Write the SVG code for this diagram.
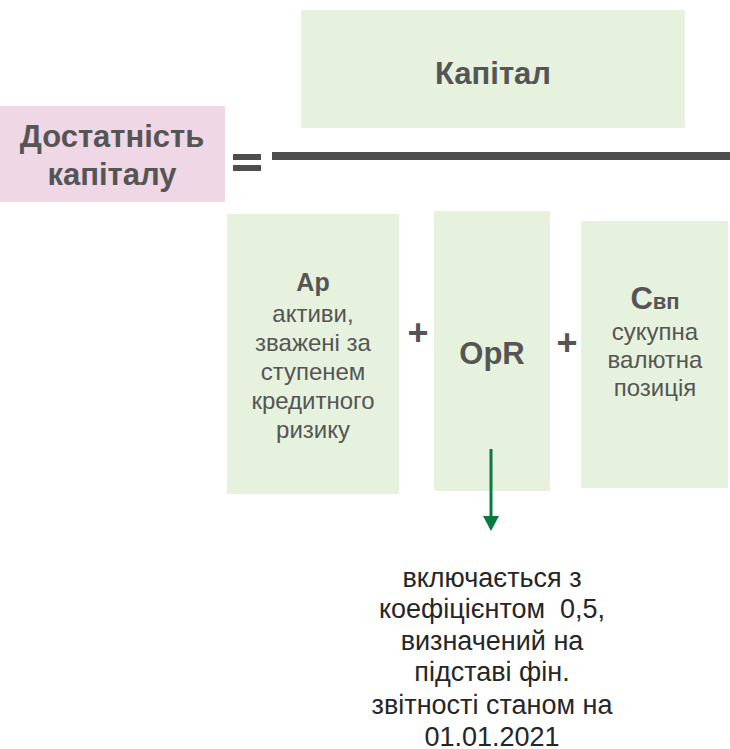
<svg xmlns="http://www.w3.org/2000/svg" width="730" height="749" viewBox="0 0 730 749">
<style>
.g{fill:#e6f2de}
.t{font-family:"Liberation Sans",Arial,sans-serif;fill:#555555;text-anchor:middle}
.b{font-weight:bold}
.d{fill:#4d4d4d}
.n{fill:#262626;font-size:27px}
.s{font-size:24px}
</style>
<defs>
<marker id="ah" markerWidth="15" markerHeight="16" refX="0" refY="8" orient="auto" markerUnits="userSpaceOnUse" viewBox="0 0 15 16">
<path d="M0,0 L15,8 L0,16 Z" fill="#0a7a43"/>
</marker>
</defs>
<rect width="730" height="749" fill="#ffffff"/>
<g id="ratio">
<rect x="0" y="106" width="225" height="96" fill="#f0d7e5"/>
<text class="t b" x="112" y="147" font-size="31">Достатність</text>
<text class="t b" x="112" y="185" font-size="31">капіталу</text>
</g>
<g id="equals">
<rect class="d" x="233" y="154" width="28" height="6"/>
<rect class="d" x="233" y="165" width="28" height="6"/>
</g>
<g id="fraction-line">
<rect class="d" x="272" y="152" width="458" height="8"/>
</g>
<g id="capital">
<rect class="g" x="301" y="10" width="384" height="118"/>
<text class="t b" x="493" y="84" font-size="31">Капітал</text>
</g>
<g id="ap">
<rect class="g" x="227" y="214" width="172" height="280"/>
<text class="t b" x="313" y="291" font-size="25">Ap</text>
<text class="t s" x="313" y="322">активи,</text>
<text class="t s" x="313" y="351">зважені за</text>
<text class="t s" x="313" y="380">ступенем</text>
<text class="t s" x="313" y="409">кредитного</text>
<text class="t s" x="313" y="438">ризику</text>
</g>
<g id="plus1">
<text class="t b" x="418" y="345" font-size="36">+</text>
</g>
<g id="opr">
<rect class="g" x="434" y="211" width="116" height="280"/>
<text class="t b" x="492" y="364" font-size="31">OpR</text>
</g>
<g id="plus2">
<text class="t b" x="567" y="355" font-size="36">+</text>
</g>
<g id="cvp">
<rect class="g" x="581" y="221" width="147" height="267"/>
<text class="t b" x="655" y="309" font-size="31">С<tspan font-size="22">вп</tspan></text>
<text class="t s" x="655" y="340">сукупна</text>
<text class="t s" x="655" y="368">валютна</text>
<text class="t s" x="655" y="396">позиція</text>
</g>
<g id="connectors">
<line x1="491" y1="449" x2="491" y2="516" stroke="#0a7a43" stroke-width="3" marker-end="url(#ah)"/>
</g>
<g id="note">
<text class="t n" x="492" y="587">включається з</text>
<text class="t n" x="492" y="618" xml:space="preserve">коефіцієнтом  0,5,</text>
<text class="t n" x="492" y="650">визначений на</text>
<text class="t n" x="492" y="681">підставі фін.</text>
<text class="t n" x="492" y="714">звітності станом на</text>
<text class="t n" x="492" y="746">01.01.2021</text>
</g>
</svg>
